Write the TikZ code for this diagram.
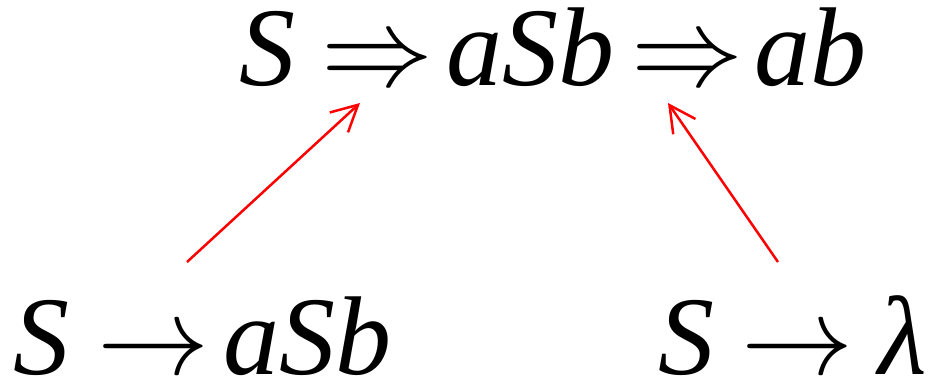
\documentclass[tikz,border=0pt]{standalone}
\usepackage{fix-cm}
\usepackage{fontspec}
\setmainfont{Liberation Serif}
\usetikzlibrary{arrows.meta}
\tikzset{
  sym/.style={anchor=base, inner sep=0pt, font=\fontsize{112}{120}\selectfont\itshape},
  arr/.style={anchor=base, inner sep=0pt, font=\fontsize{112}{120}\selectfont},
  link/.style={draw=red, line width=2.5pt, -{Straight Barb[length=26pt,width=27pt,line width=2.5pt]}}
}
\begin{document}
\begin{tikzpicture}[x=1pt,y=1pt]
\useasboundingbox (0,0) rectangle (939,378);
% top derivation
\node[sym] (tS)   at (267,292) {S};
\node[arr] (tr1)  at (377,292) {$\Rightarrow$};
\node[sym] (tasb) at (530,292) {aSb};
\node[arr] (tr2)  at (687,292) {$\Rightarrow$};
\node[sym] (tab)  at (810,292) {ab};
% left rule
\node[sym] (lS)   at (41,4) {S};
\node[arr] (lr)   at (153,4) {$\rightarrow$};
\node[sym] (lasb) at (307,4) {aSb};
% right rule
\node[sym] (rS)   at (686,4) {S};
\node[arr] (rr)   at (797,4) {$\rightarrow$};
\node[sym] (rl)   at (903,4) {λ};
% red links
\coordinate (a1) at (187,116);
\coordinate (a2) at (360,275);
\coordinate (b1) at (778,116);
\coordinate (b2) at (668,275);
\draw[link] (a1) -- (a2);
\draw[link] (b1) -- (b2);
\end{tikzpicture}
\end{document}
